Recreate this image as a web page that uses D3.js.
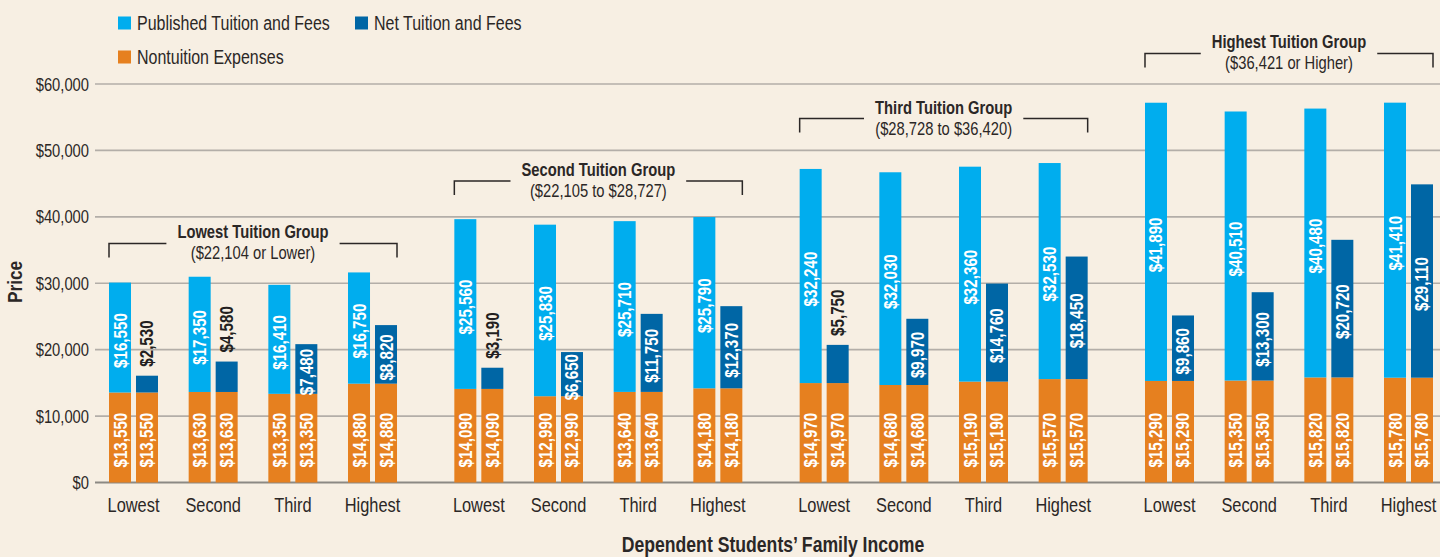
<!DOCTYPE html>
<html>
<head>
<meta charset="utf-8">
<script src="https://cdn.jsdelivr.net/npm/d3@7"></script>
<style>
  html, body { margin: 0; padding: 0; background: #f7efe3; }
  svg { display: block; }
  text { font-family: "Liberation Sans", Arial, sans-serif; fill: #2b2726; }
</style>
</head>
<body>
<div id="chart"></div>
<script>
const groups = ["Lowest Tuition Group", "Second Tuition Group", "Third Tuition Group", "Highest Tuition Group"];
const groupRanges = ["($22,104 or Lower)", "($22,105 to $28,727)", "($28,728 to $36,420)", "($36,421 or Higher)"];
const incomes = ["Lowest", "Second", "Third", "Highest"];

// rows = tuition group, columns = family income
const nontuition = [
  [13550, 13630, 13350, 14880],
  [14090, 12990, 13640, 14180],
  [14970, 14680, 15190, 15570],
  [15290, 15350, 15820, 15780]
];
const published = [
  [16550, 17350, 16410, 16750],
  [25560, 25830, 25710, 25790],
  [32240, 32030, 32360, 32530],
  [41890, 40510, 40480, 41410]
];
const net = [
  [2530, 4580, 7480, 8820],
  [3190, 6650, 11750, 12370],
  [5750, 9970, 14760, 18450],
  [9860, 13300, 20720, 29110]
];
const yTicks = [0, 10000, 20000, 30000, 40000, 50000, 60000];

const width = 1440, height = 557;
const colors = { published: "#00adee", net: "#0066a5", nontuition: "#e6801f" };
// price level the group bracket sits at
const bracketLevel = [36000, 45400, 54800, 64600];
// the original uses a condensed face; squeeze Liberation Sans to mimic it
const SX = 0.82;
const tf = (x, y, rot) => `translate(${x},${y})${rot ? ` rotate(${rot})` : ""} scale(${SX},1)`;

const svg = d3.select("#chart").append("svg")
  .attr("width", width)
  .attr("height", height);

const y = d3.scaleLinear().domain([0, 60000]).range([482.5, 84]);

const xGroup = d3.scaleBand().domain(groups).range([109, 1433]).paddingInner(0.166);
const xIncome = d3.scaleBand().domain(incomes).range([0, xGroup.bandwidth()]).paddingInner(0.385);
const xKind = d3.scaleBand().domain(["published", "net"]).range([0, xIncome.bandwidth()]).paddingInner(0.185);

const fmt = d3.format("$,");

// gridlines
svg.append("g")
  .selectAll("line")
  .data(yTicks)
  .enter()
  .append("line")
  .attr("x1", 95)
  .attr("x2", width)
  .attr("y1", d => y(d))
  .attr("y2", d => y(d))
  .attr("stroke", d => d === 0 ? "#8c8984" : "#b3aea8")
  .attr("stroke-width", d => d === 0 ? 2.2 : 1.6);

svg.append("g")
  .selectAll("text")
  .data(yTicks)
  .enter()
  .append("text")
  .attr("transform", d => tf(89, y(d) + 6.5))
  .attr("text-anchor", "end")
  .style("font-size", "18px")
  .text(d => fmt(d));

svg.append("text")
  .attr("transform", tf(22, 282, -90))
  .attr("text-anchor", "middle")
  .style("font-size", "21px")
  .style("font-weight", "bold")
  .text("Price");

// flatten into bars
const bars = [];
groups.forEach((g, gi) => {
  incomes.forEach((inc, ci) => {
    const x0 = xGroup(g) + xIncome(inc);
    bars.push({ g: gi, c: ci, kind: "published", x: x0 + xKind("published"),
      base: nontuition[gi][ci], top: published[gi][ci] });
    bars.push({ g: gi, c: ci, kind: "net", x: x0 + xKind("net"),
      base: nontuition[gi][ci], top: net[gi][ci] });
  });
});

const bw = xKind.bandwidth();
const barG = svg.append("g");

// nontuition base
barG.selectAll("rect.non")
  .data(bars)
  .enter()
  .append("rect")
  .attr("class", "non")
  .attr("x", d => d.x)
  .attr("width", bw)
  .attr("y", d => y(d.base))
  .attr("height", d => y(0) - y(d.base))
  .attr("fill", colors.nontuition);

// tuition on top
barG.selectAll("rect.tu")
  .data(bars)
  .enter()
  .append("rect")
  .attr("class", "tu")
  .attr("x", d => d.x)
  .attr("width", bw)
  .attr("y", d => y(d.base + d.top))
  .attr("height", d => y(d.base) - y(d.base + d.top))
  .attr("fill", d => colors[d.kind]);

// labels
const lab = svg.append("g")
  .style("font-size", "18.5px")
  .style("font-weight", "bold");

lab.selectAll("text.non")
  .data(bars)
  .enter()
  .append("text")
  .attr("transform", d => tf(d.x + bw / 2 + 6.5, y(0) - 15, -90))
  .style("fill", "#fff")
  .text(d => fmt(d.base));

lab.selectAll("text.tu")
  .data(bars)
  .enter()
  .append("text")
  .each(function(d) {
    const h = y(d.base) - y(d.base + d.top);
    const t = d3.select(this);
    if (h < 42) {
      t.attr("transform", tf(d.x + bw / 2 + 6.5, y(d.base + d.top) - 9, -90))
        .attr("text-anchor", "start")
        .style("fill", "#231f20");
    } else {
      const mid = (y(d.base) + y(d.base + d.top)) / 2 + 3;
      t.attr("transform", tf(d.x + bw / 2 + 6.5, mid, -90))
        .attr("text-anchor", "middle")
        .style("fill", "#fff");
    }
  })
  .text(d => fmt(d.top));

// x labels
const xl = svg.append("g").style("font-size", "20px");
groups.forEach(g => {
  incomes.forEach(inc => {
    xl.append("text")
      .attr("transform", tf(xGroup(g) + xIncome(inc) + xIncome.bandwidth() / 2, 512))
      .attr("text-anchor", "middle")
      .text(inc);
  });
});

svg.append("text")
  .attr("transform", tf(773, 552))
  .attr("text-anchor", "middle")
  .style("font-size", "21.5px")
  .style("font-weight", "bold")
  .text("Dependent Students\u2019 Family Income");

// group brackets
groups.forEach((g, gi) => {
  const x0 = xGroup(g), x1 = x0 + xGroup.bandwidth();
  const cx = (x0 + x1) / 2;
  const by = y(bracketLevel[gi]);
  const title = svg.append("text")
    .attr("transform", tf(cx, by - 5))
    .attr("text-anchor", "middle")
    .style("font-size", "18px")
    .style("font-weight", "bold")
    .text(g);
  svg.append("text")
    .attr("transform", tf(cx, by + 16))
    .attr("text-anchor", "middle")
    .style("font-size", "18px")
    .text(groupRanges[gi]);
  const half = title.node().getComputedTextLength() * SX / 2 + 11;
  svg.append("path")
    .attr("d", `M${x0},${by + 14}V${by}H${cx - half}M${cx + half},${by}H${x1}V${by + 14}`)
    .attr("fill", "none")
    .attr("stroke", "#2b2726")
    .attr("stroke-width", 1.5);
});

// legend
const legend = [
  { key: "published", label: "Published Tuition and Fees", x: 118, y: 23 },
  { key: "net", label: "Net Tuition and Fees", x: 355, y: 23 },
  { key: "nontuition", label: "Nontuition Expenses", x: 118, y: 57 }
];
const lg = svg.append("g").selectAll("g").data(legend).enter().append("g");
lg.append("rect")
  .attr("x", d => d.x)
  .attr("y", d => d.y - 6.5)
  .attr("width", 13)
  .attr("height", 13)
  .attr("fill", d => colors[d.key]);
lg.append("text")
  .attr("transform", d => tf(d.x + 19, d.y + 6.5))
  .style("font-size", "19.5px")
  .text(d => d.label);
</script>
</body>
</html>
